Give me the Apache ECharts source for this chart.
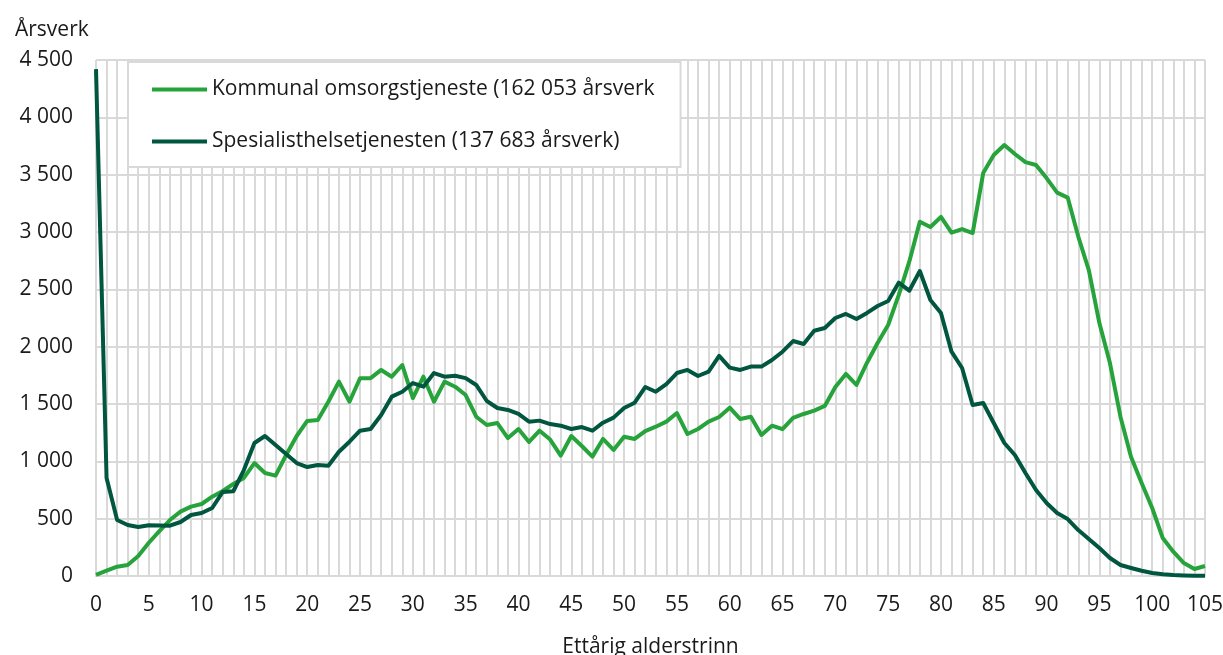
<!DOCTYPE html>
<html>
<head>
<meta charset="utf-8">
<script src="https://cdn.jsdelivr.net/npm/echarts@6/dist/echarts.min.js"></script>
<style>
  html, body { margin: 0; padding: 0; background: #fff; }
  #chart { width: 1223px; height: 655px; }
</style>
</head>
<body>
<div id="chart"></div>
<script>
// ettårige aldre 0-105
const ages = [];
for (let a = 0; a <= 105; a++) ages.push(String(a));

const kommunal = [
    10, 46, 81, 96, 175, 290, 392, 488, 561, 605,
    628, 692, 741, 802, 855, 985, 898, 875, 1055, 1221,
    1352, 1360, 1520, 1695, 1520, 1725, 1725, 1797, 1738, 1840,
    1552, 1738, 1520, 1695, 1651, 1578, 1389, 1317, 1334, 1203,
    1282, 1169, 1267, 1190, 1050, 1221, 1134, 1041, 1195, 1099,
    1215, 1195, 1264, 1302, 1346, 1421, 1238, 1282, 1346, 1387,
    1468, 1369, 1389, 1230, 1311, 1280, 1378, 1413, 1442, 1483,
    1648, 1762, 1666, 1860, 2032, 2189, 2450, 2741, 3090, 3043,
    3131, 2994, 3026, 2991, 3514, 3671, 3759, 3680, 3610, 3584,
    3470, 3343, 3300, 2960, 2668, 2206, 1857, 1387, 1038, 811,
    593, 331, 212, 113, 61, 87
];

const spesialist = [
    4420, 855, 488, 445, 427, 442, 440, 439, 471, 532,
    549, 593, 733, 739, 924, 1160, 1221, 1142, 1064, 985,
    950, 968, 962, 1084, 1171, 1267, 1282, 1404, 1564, 1607,
    1683, 1651, 1770, 1738, 1747, 1726, 1666, 1526, 1465, 1448,
    1413, 1346, 1355, 1325, 1311, 1282, 1299, 1267, 1337, 1381,
    1465, 1511, 1648, 1607, 1674, 1770, 1797, 1744, 1782, 1919,
    1817, 1797, 1826, 1826, 1884, 1956, 2049, 2023, 2139, 2163,
    2250, 2285, 2241, 2294, 2355, 2398, 2558, 2488, 2660, 2407,
    2293, 1956, 1814, 1491, 1509, 1334, 1160, 1055, 898, 750,
    637, 549, 497, 401, 323, 244, 157, 96, 70, 46,
    26, 15, 8, 5, 3, 3
];

const seriesNames = [
    'Kommunal omsorgstjeneste (162 053 årsverk',
    'Spesialisthelsetjenesten (137 683 årsverk)'
];
const colors = ['#27a33b', '#00563f'];

const fontFamily = '"Open Sans", "Noto Sans", sans-serif';
const gridColor = '#d9d9d9';
const textColor = '#1a1a1a';

const fmt = (v) => String(v).replace(/\B(?=(\d{3})+(?!\d))/g, ' ');

const chart = echarts.init(document.getElementById('chart'));
chart.setOption({
    animation: false,
    textStyle: { fontFamily: fontFamily },
    title: {
        text: 'Årsverk',
        left: 10,
        top: 15,
        textStyle: { fontSize: 21, fontWeight: 'normal', color: textColor, fontFamily: fontFamily }
    },
    legend: {
        orient: 'vertical',
        left: 128,
        top: 62,
        padding: [14, 26, 12, 24],
        itemGap: 25,
        itemWidth: 55,
        itemHeight: 4,
        icon: 'rect',
        backgroundColor: '#fff',
        borderColor: gridColor,
        borderWidth: 2,
        textStyle: { fontSize: 21, color: textColor, lineHeight: 27, fontFamily: fontFamily },
        data: seriesNames
    },
    grid: { left: 96, right: 18, top: 60, bottom: 79, containLabel: false, outerBoundsMode: 'none' },
    xAxis: {
        type: 'category',
        data: ages,
        boundaryGap: false,
        name: 'Ettårig alderstrinn',
        nameLocation: 'middle',
        nameGap: 61,
        nameTextStyle: { fontSize: 21, color: textColor },
        axisLine: { lineStyle: { color: gridColor, width: 2 } },
        axisTick: { show: false },
        axisLabel: { interval: 4, fontSize: 21, color: textColor, margin: 19 },
        splitLine: { show: true, interval: 0, lineStyle: { color: gridColor, width: 2 } }
    },
    yAxis: {
        type: 'value',
        min: 0,
        max: 4500,
        interval: 500,
        axisLine: { show: false },
        axisTick: { show: false },
        axisLabel: { fontSize: 21, color: textColor, margin: 23, formatter: fmt },
        splitLine: { show: true, lineStyle: { color: gridColor, width: 2 } }
    },
    series: [
        {
            name: seriesNames[0],
            type: 'line',
            data: kommunal,
            showSymbol: false,
            color: colors[0],
            lineStyle: { width: 4, color: colors[0], join: 'round' },
            z: 3
        },
        {
            name: seriesNames[1],
            type: 'line',
            data: spesialist,
            showSymbol: false,
            color: colors[1],
            lineStyle: { width: 4, color: colors[1], join: 'round' },
            z: 4
        }
    ]
});
</script>
</body>
</html>
